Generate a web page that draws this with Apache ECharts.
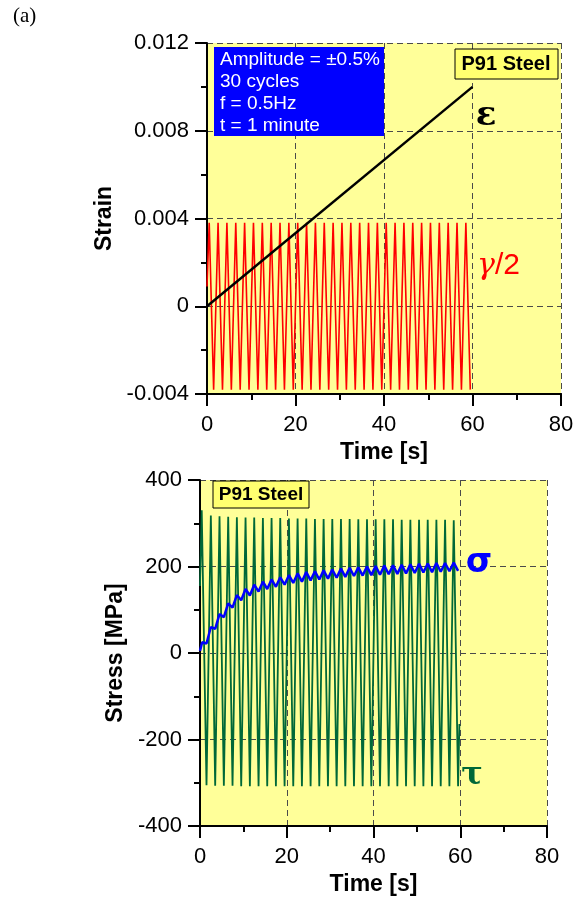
<!DOCTYPE html>
<html><head><meta charset="utf-8">
<script src="https://cdn.jsdelivr.net/npm/echarts@6/dist/echarts.min.js"></script>
<style>html,body{margin:0;padding:0;background:#fff}#c{width:580px;height:899px}</style>
</head><body><div id="c"></div><script>
// ---- top panel: strain ----
const strainTicks = [-0.004, 0, 0.004, 0.008, 0.012];
const timeTicks = [0, 20, 40, 60, 80];
const epsTime = [0, 60];
const epsVals = [0, 0.01];
const gammaTime = [0,0.5,1.5,2.5,3.5,4.5,5.5,6.5,7.5,8.5,9.5,10.5,11.5,12.5,13.5,14.5,15.5,16.5,17.5,18.5,19.5,20.5,21.5,22.5,23.5,24.5,25.5,26.5,27.5,28.5,29.5,30.5,31.5,32.5,33.5,34.5,35.5,36.5,37.5,38.5,39.5,40.5,41.5,42.5,43.5,44.5,45.5,46.5,47.5,48.5,49.5,50.5,51.5,52.5,53.5,54.5,55.5,56.5,57.5,58.5,59.5];
const gammaVals = [0.0009,
 0.0038,-0.0038, 0.0038,-0.0038, 0.0038,-0.0038, 0.0038,-0.0038, 0.0038,-0.0038,
 0.0038,-0.0038, 0.0038,-0.0038, 0.0038,-0.0038, 0.0038,-0.0038, 0.0038,-0.0038,
 0.0038,-0.0038, 0.0038,-0.0038, 0.0038,-0.0038, 0.0038,-0.0038, 0.0038,-0.0038,
 0.0038,-0.0038, 0.0038,-0.0038, 0.0038,-0.0038, 0.0038,-0.0038, 0.0038,-0.0038,
 0.0038,-0.0038, 0.0038,-0.0038, 0.0038,-0.0038, 0.0038,-0.0038, 0.0038,-0.0038,
 0.0038,-0.0038, 0.0038,-0.0038, 0.0038,-0.0038, 0.0038,-0.0038, 0.0038,-0.0038];
// ---- bottom panel: stress ----
const stressTicks = [-400, -200, 0, 200, 400];
const tauTime = [0,0.4,1.5,2.5,3.5,4.5,5.5,6.5,7.5,8.5,9.5,10.5,11.5,12.5,13.5,14.5,15.5,16.5,17.5,18.5,19.5,20.5,21.5,22.5,23.5,24.5,25.5,26.5,27.5,28.5,29.5,30.5,31.5,32.5,33.5,34.5,35.5,36.5,37.5,38.5,39.5,40.5,41.5,42.5,43.5,44.5,45.5,46.5,47.5,48.5,49.5,50.5,51.5,52.5,53.5,54.5,55.5,56.5,57.5,58.5,59.5,59.8];
const tauVals = [155,
 330,-306, 318,-307, 316,-307, 315,-307, 314,-308, 313,-308, 313,-308, 312,-308, 312,-308, 312,-308,
 311,-308, 311,-308, 311,-308, 310,-308, 310,-308, 310,-308, 310,-308, 310,-308, 309,-308, 309,-308,
 309,-308, 309,-308, 309,-308, 308,-308, 308,-308, 308,-308, 308,-308, 308,-308, 308,-308, 307,-308,
 -164];
const sigmaTime = [0,0.5,1.5,2.5,3.5,4.5,5.5,6.5,7.5,8.5,9.5,10.5,11.5,12.5,13.5,14.5,15.5,16.5,17.5,18.5,19.5,20.5,21.5,22.5,23.5,24.5,25.5,26.5,27.5,28.5,29.5,30.5,31.5,32.5,33.5,34.5,35.5,36.5,37.5,38.5,39.5,40.5,41.5,42.5,43.5,44.5,45.5,46.5,47.5,48.5,49.5,50.5,51.5,52.5,53.5,54.5,55.5,56.5,57.5,58.5,59.5];
const sigmaVals = [5,
 25,22, 60,56, 90,83, 115,105, 134,122, 148,133, 158,142, 165,148, 170,153, 175,158,
 180,162, 184,165, 187,168, 189,170, 191,172, 193,174, 195,176, 197,178, 198,179, 200,180,
 201,181, 202,182, 203,183, 204,184, 205,185, 206,186, 207,187, 208,188, 208,189, 209,190];

const zip = (a, b) => a.map((v, i) => [v, b[i]]);
const FONT = 'Liberation Sans, Arial, sans-serif';
const BG = '#FFFF99';
const gridDash = {show: true, showMinLine: false, showMaxLine: true, lineStyle: {color: '#4a4a4a', type: [6, 4], width: 1}};

function xAxisDef(gridIndex) {
  return {
    type: 'value', gridIndex, min: timeTicks[0], max: timeTicks[timeTicks.length - 1], interval: 20,
    name: 'Time [s]', nameLocation: 'middle', nameGap: 47,
    nameTextStyle: {fontFamily: FONT, fontWeight: 'bold', fontSize: 23, color: '#000'},
    axisLine: {show: true, onZero: false, lineStyle: {color: '#000', width: 2}},
    axisTick: {show: true, inside: false, length: 12, lineStyle: {color: '#000', width: 2}},
    minorTick: {show: true, splitNumber: 2, length: 6, lineStyle: {color: '#000', width: 2}},
    axisLabel: {fontFamily: FONT, fontSize: 22, color: '#000', margin: 20},
    splitLine: gridDash
  };
}
function yAxisDef(gridIndex, min, max, interval, name, nameGap) {
  return {
    type: 'value', gridIndex, min, max, interval,
    name, nameLocation: 'middle', nameGap,
    nameTextStyle: {fontFamily: FONT, fontWeight: 'bold', fontSize: 23, color: '#000'},
    axisLine: {show: true, onZero: false, lineStyle: {color: '#000', width: 2}},
    axisTick: {show: true, inside: false, length: 12, lineStyle: {color: '#000', width: 2}},
    minorTick: {show: true, splitNumber: 2, length: 6, lineStyle: {color: '#000', width: 2}},
    axisLabel: {fontFamily: FONT, fontSize: 22, color: '#000', margin: 18},
    splitLine: gridDash
  };
}

const chart = echarts.init(document.getElementById('c'), null, {renderer: 'canvas'});
chart.setOption({
  animation: false,
  backgroundColor: '#fff',
  grid: [
    {left: 207, top: 43, width: 354, height: 351, show: true, backgroundColor: BG, borderWidth: 0},
    {left: 200, top: 480, width: 347, height: 346, show: true, backgroundColor: BG, borderWidth: 0}
  ],
  xAxis: [xAxisDef(0), xAxisDef(1)],
  yAxis: [
    yAxisDef(0, strainTicks[0], strainTicks[strainTicks.length - 1], 0.004, 'Strain', 82),
    yAxisDef(1, stressTicks[0], stressTicks[stressTicks.length - 1], 200, 'Stress [MPa]', 61)
  ],
  series: [
    {type: 'line', xAxisIndex: 0, yAxisIndex: 0, data: zip(gammaTime, gammaVals), showSymbol: false,
     lineStyle: {color: '#FF0000', width: 1.6}, z: 2},
    {type: 'line', xAxisIndex: 0, yAxisIndex: 0, data: zip(epsTime, epsVals), showSymbol: false,
     lineStyle: {color: '#000', width: 2.5}, z: 3},
    {type: 'line', xAxisIndex: 1, yAxisIndex: 1, data: zip(tauTime, tauVals), showSymbol: false,
     lineStyle: {color: '#006838', width: 1.8}, z: 2},
    {type: 'line', xAxisIndex: 1, yAxisIndex: 1, data: zip(sigmaTime, sigmaVals), showSymbol: false,
     lineStyle: {color: '#0000FF', width: 2.5}, z: 3}
  ],
  graphic: [
    {type: 'text', left: 13, top: 6, style: {text: '(a)', font: '21px "Liberation Serif", serif', fill: '#000'}},
    {type: 'rect', shape: {x: 214, y: 47, width: 170, height: 89}, style: {fill: '#0000FF'}, z: 10},
    {type: 'text', x: 220, y: 49, z: 11, style: {text: 'Amplitude = ±0.5%\n30 cycles\nf = 0.5Hz\nt = 1 minute',
      font: '19px ' + FONT, fill: '#fff', lineHeight: 22, verticalAlign: 'top'}},
    {type: 'rect', shape: {x: 455, y: 49, width: 103, height: 30}, style: {fill: '#FFFF70', stroke: '#000', lineWidth: 1}, z: 10},
    {type: 'text', x: 506, y: 64, z: 11, style: {text: 'P91 Steel', font: 'bold 20px ' + FONT, fill: '#000', align: 'center', verticalAlign: 'middle'}},
    {type: 'rect', shape: {x: 213, y: 481, width: 96, height: 27}, style: {fill: '#FFFF70', stroke: '#000', lineWidth: 1}, z: 10},
    {type: 'text', x: 261, y: 495, z: 11, style: {text: 'P91 Steel', font: 'bold 19px ' + FONT, fill: '#000', align: 'center', verticalAlign: 'middle'}},
    {type: 'text', x: 486, y: 116, z: 11, style: {text: 'ε', font: 'bold 34px "DejaVu Serif", serif', fill: '#000', align: 'center', verticalAlign: 'middle'}},
    {type: 'text', x: 477, y: 266, z: 11, style: {text: '{g|γ}{s|/2}', align: 'left', verticalAlign: 'middle',
      rich: {g: {font: 'italic 30px "DejaVu Serif", serif', fill: '#FF0000'},
             s: {font: '30px "Liberation Sans", Arial, sans-serif', fill: '#FF0000'}}}},
    {type: 'text', x: 479, y: 563, z: 11, style: {text: 'σ', font: 'bold 34px "DejaVu Sans", sans-serif', fill: '#0000FF', align: 'center', verticalAlign: 'middle'}},
    {type: 'text', x: 472, y: 776, z: 11, style: {text: 'τ', font: 'bold 32px "DejaVu Serif", serif', fill: '#006838', align: 'center', verticalAlign: 'middle'}}
  ]
});
</script></body></html>
